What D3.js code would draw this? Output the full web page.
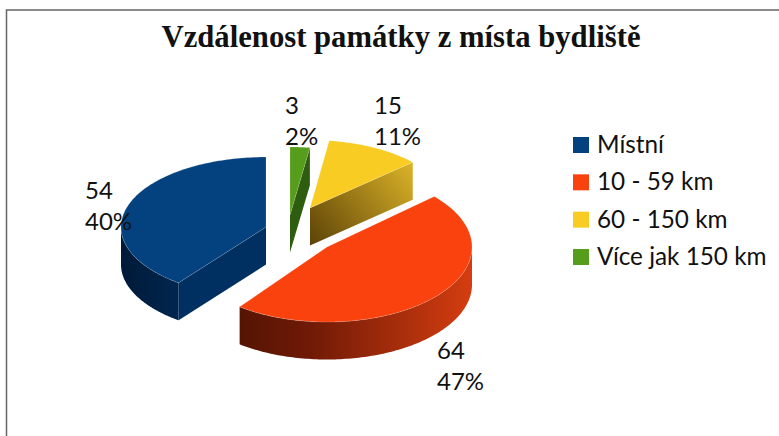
<!DOCTYPE html>
<html><head><meta charset="utf-8">
<script src="https://cdn.jsdelivr.net/npm/d3@7"></script>
<style>html,body{margin:0;padding:0;background:#fff;overflow:hidden}svg{display:block}text{fill:#111}</style>
</head><body><div id="c"></div>
<script>
const title = "Vzdálenost památky z místa bydliště";
const categories = ["Místní", "10 - 59 km", "60 - 150 km", "Více jak 150 km"];
const values = [54, 64, 15, 3];
const colors = ["#03417f", "#f9420e", "#f8cc22", "#579d1c"];

// exploded-slice layout (apex, radii) and label anchors, one per category
const apexX = [266, 327, 310, 290];
const apexY = [227, 247, 208, 215];
const radiusX = [145, 145, 139, 144];
const radiusY = [70, 75, 68, 68];
const labelX = [85, 437, 374, 285];
const labelY = [199, 359, 114, 114];
const wallLeft = ["#001a38", "#561403", "#5c4207", "#2c5a0d"];
const wallRight = ["#00264f", "#d53d10", "#dcb428", "#2f5f10"];
const flatFill = ["#003062", null, "url(#flat2)", "#2f5d0f"];

const W = 779, H = 436, depth = 37.5, TAU = 2 * Math.PI;
const svg = d3.select("#c").append("svg").attr("width", W).attr("height", H);
const defs = svg.append("defs");

// the pie runs counter-clockwise from 12 o'clock; lo..hi are clockwise angles
const arcs = d3.pie().sort(null).startAngle(TAU).endAngle(0)(values)
  .map((d, i) => ({ index: i, lo: d.endAngle, hi: d.startAngle }));

const pt = (i, t, dz = 0) => [
  apexX[i] + radiusX[i] * Math.sin(t),
  apexY[i] - radiusY[i] * Math.cos(t) + dz
];
const line = d3.line();
const sample = (i, lo, hi, dz) => d3.range(0, 121).map(k => pt(i, lo + (hi - lo) * k / 120, dz));

// frame
svg.append("rect").attr("x", 6.5).attr("y", 10).attr("width", W + 20).attr("height", H + 20)
  .attr("fill", "#fff").attr("stroke", "#666").attr("stroke-width", 1.5);

// title
svg.append("text").attr("x", 401).attr("y", 47).attr("text-anchor", "middle")
  .attr("font-family", "Liberation Serif").attr("font-weight", "bold").attr("font-size", 32)
  .attr("textLength", 479).attr("lengthAdjust", "spacingAndGlyphs").text(title);

// gradients for curved walls
arcs.forEach(s => {
  const i = s.index;
  const vLo = Math.max(s.lo, Math.PI / 2), vHi = Math.min(s.hi, 3 * Math.PI / 2);
  if (vHi <= vLo) return;
  const xs = sample(i, vLo, vHi, 0).map(p => p[0]);
  const g = defs.append("linearGradient").attr("id", "wall" + i).attr("gradientUnits", "userSpaceOnUse")
    .attr("x1", d3.min(xs)).attr("x2", d3.max(xs)).attr("y1", 0).attr("y2", 0);
  g.append("stop").attr("offset", 0).attr("stop-color", wallLeft[i]);
  if (i === 1) g.append("stop").attr("offset", 0.3).attr("stop-color", "#6f1a06");
  g.append("stop").attr("offset", 1).attr("stop-color", wallRight[i]);
});
{
  const c = pt(2, arcs[2].hi);
  const g = defs.append("linearGradient").attr("id", "flat2").attr("gradientUnits", "userSpaceOnUse")
    .attr("x1", apexX[2]).attr("y1", apexY[2] + depth).attr("x2", c[0]).attr("y2", c[1]);
  g.append("stop").attr("offset", 0).attr("stop-color", wallLeft[2]);
  g.append("stop").attr("offset", 1).attr("stop-color", wallRight[2]);
}

// slices
const drawOrder = [3, 2, 0, 1];
const pieG = svg.append("g");
drawOrder.forEach(i => {
  const s = arcs[i];
  const g = pieG.append("g");
  const apex = [apexX[i], apexY[i]];
  // flat cut faces that look toward the viewer
  [[s.hi, Math.sin(s.hi) > 1e-6], [s.lo, Math.sin(s.lo) < -1e-6]].forEach(([t, vis]) => {
    if (!vis) return;
    g.append("path").attr("fill", flatFill[i]).attr("d", line([
      apex, pt(i, t), pt(i, t, depth), [apex[0], apex[1] + depth]
    ]) + "Z");
  });
  // curved outer wall
  const vLo = Math.max(s.lo, Math.PI / 2), vHi = Math.min(s.hi, 3 * Math.PI / 2);
  if (vHi > vLo) {
    g.append("path").attr("fill", `url(#wall${i})`).attr("d",
      line([...sample(i, vLo, vHi, 0), ...sample(i, vLo, vHi, depth).reverse()]) + "Z");
  }
  // top face
  g.append("path").attr("fill", colors[i])
    .attr("stroke", "#fff").attr("stroke-opacity", 0.25).attr("stroke-width", 0.7)
    .attr("d", line([apex, ...sample(i, s.lo, s.hi, 0)]) + "Z");
});

// data labels
const fmtPct = d3.format(".0%");
const total = d3.sum(values);
const labels = svg.append("g").attr("font-family", "Lato").attr("font-size", 24);
values.forEach((v, i) => {
  labels.append("text").attr("x", labelX[i]).attr("y", labelY[i]).text(v);
  labels.append("text").attr("x", labelX[i]).attr("y", labelY[i] + 31).text(fmtPct(v / total));
});

// legend
const legY = d3.scalePoint().domain(categories).range([145, 257]);
const leg = svg.append("g");
categories.forEach((c, i) => {
  leg.append("rect").attr("x", 573).attr("y", legY(c) - 8).attr("width", 16).attr("height", 16).attr("fill", colors[i]);
  leg.append("text").attr("x", 597).attr("y", legY(c) + 8).attr("font-family", "Lato").attr("font-size", 24.3).text(c);
});
</script></body></html>
